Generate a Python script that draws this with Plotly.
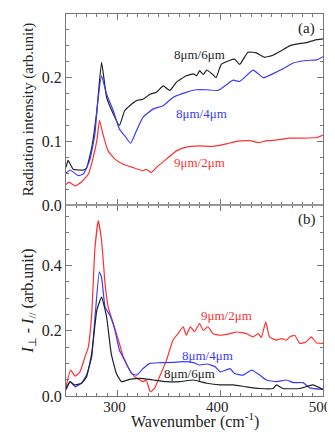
import plotly.graph_objects as go
from plotly.subplots import make_subplots

# ---- Panel (a): radiation intensity ----
a_black_x = [250, 252, 257, 262, 267, 270, 275, 280, 284.6, 289.5, 296, 302, 307, 312, 318.6, 325, 331.6, 338, 344.6, 351, 357.5, 367, 374, 377, 380, 383.5, 387, 392, 396, 401, 409, 414, 419, 427, 435, 443, 451, 459, 467.6, 475.7, 483.8, 491.9, 500]
a_black_y = [0.059, 0.07, 0.056, 0.055, 0.055, 0.058, 0.09, 0.148, 0.224, 0.169, 0.143, 0.125, 0.148, 0.156, 0.164, 0.166, 0.174, 0.177, 0.187, 0.18, 0.193, 0.203, 0.206, 0.203, 0.211, 0.205, 0.212, 0.206, 0.2, 0.221, 0.227, 0.229, 0.221, 0.24, 0.239, 0.232, 0.235, 0.242, 0.25, 0.253, 0.255, 0.259, 0.261]

a_blue_x = [250, 254, 262, 267, 273, 278, 281, 284.6, 289.5, 296, 302, 307, 312.8, 318.6, 325, 335, 344.6, 354, 367, 377, 387, 398, 412.6, 419, 432, 442, 451, 461, 471, 484, 494, 500]
a_blue_y = [0.05, 0.055, 0.046, 0.049, 0.07, 0.11, 0.164, 0.203, 0.174, 0.148, 0.119, 0.109, 0.097, 0.117, 0.138, 0.151, 0.156, 0.169, 0.177, 0.181, 0.181, 0.18, 0.196, 0.194, 0.212, 0.2, 0.206, 0.214, 0.223, 0.227, 0.228, 0.233]

a_red_x = [250, 253, 259, 265, 272, 276.5, 280, 282.6, 286, 291, 297.6, 305.7, 315, 325, 328, 333, 338, 347.6, 357.5, 367, 380, 393, 406, 415.7, 428.8, 438, 445, 454, 467.6, 480.6, 494, 500]
a_red_y = [0.032, 0.036, 0.03, 0.036, 0.049, 0.075, 0.101, 0.133, 0.111, 0.085, 0.072, 0.064, 0.059, 0.054, 0.056, 0.051, 0.059, 0.072, 0.085, 0.091, 0.093, 0.092, 0.096, 0.1, 0.101, 0.098, 0.101, 0.102, 0.105, 0.105, 0.106, 0.11]

# ---- Panel (b): I_perp - I_par ----
b_red_x = [250, 254.5, 259, 263.6, 268.5, 271.7, 275, 278, 281.4, 284.6, 288, 291, 296, 301, 305.7, 312, 317, 322, 325, 328, 332, 336, 341, 347.8, 354, 359, 364, 367, 371, 375, 380, 383.5, 388, 393, 400, 409.5, 415.8, 425.5, 432, 437, 440, 444.3, 448, 454.7, 459.5, 464.5, 467.6, 472.5, 477.4, 483.8, 488.7, 493.5, 500]
b_red_y = [0.028, 0.079, 0.061, 0.074, 0.12, 0.15, 0.25, 0.446, 0.537, 0.476, 0.344, 0.273, 0.222, 0.171, 0.12, 0.079, 0.059, 0.049, 0.044, 0.049, 0.013, 0.023, 0.059, 0.11, 0.171, 0.191, 0.212, 0.186, 0.212, 0.197, 0.222, 0.201, 0.212, 0.191, 0.186, 0.191, 0.196, 0.191, 0.181, 0.191, 0.179, 0.227, 0.181, 0.171, 0.176, 0.171, 0.181, 0.186, 0.161, 0.166, 0.181, 0.163, 0.161]

b_blue_x = [250, 254, 259, 265, 270, 275, 278, 282.4, 284.6, 288, 292.7, 297.6, 302, 307, 313.8, 318.6, 325, 331.6, 341, 354, 364, 374, 380, 387, 395, 400, 409.5, 414, 422.4, 430.5, 438.5, 445, 454.7, 464.5, 471, 480.6, 487, 500]
b_blue_y = [0.018, 0.044, 0.028, 0.039, 0.064, 0.12, 0.232, 0.38, 0.364, 0.273, 0.247, 0.202, 0.14, 0.11, 0.069, 0.064, 0.084, 0.1, 0.102, 0.103, 0.105, 0.102, 0.095, 0.098, 0.09, 0.074, 0.084, 0.069, 0.064, 0.079, 0.064, 0.049, 0.044, 0.049, 0.041, 0.041, 0.025, 0.02]

b_black_x = [250, 254, 258, 265, 270, 275, 280, 284.6, 289.5, 294, 299, 303.9, 312, 322, 335, 347.8, 360.7, 374, 387, 400, 412.6, 425.5, 438.5, 451.5, 454.7, 461, 477.4, 490, 500]
b_black_y = [0.023, 0.044, 0.034, 0.039, 0.059, 0.13, 0.263, 0.303, 0.242, 0.13, 0.069, 0.044, 0.051, 0.054, 0.049, 0.044, 0.044, 0.049, 0.039, 0.034, 0.034, 0.028, 0.023, 0.023, 0.034, 0.023, 0.023, 0.034, 0.02]

BLACK = "#222222"
BLUE = "#3a3aff"
RED = "#ff3030"
FONT = "Liberation Serif"

fig = make_subplots(rows=2, cols=1, shared_xaxes=False, vertical_spacing=0.0)

def add(x, y, color, row):
    fig.add_trace(go.Scatter(x=x, y=y, mode="lines", line=dict(color=color, width=1.2, shape="spline", smoothing=0.4),
                             showlegend=False, hoverinfo="skip"), row=row, col=1)

add(a_black_x, a_black_y, BLACK, 1)
add(a_blue_x, a_blue_y, BLUE, 1)
add(a_red_x, a_red_y, RED, 1)
add(b_red_x, b_red_y, RED, 2)
add(b_blue_x, b_blue_y, BLUE, 2)
add(b_black_x, b_black_y, BLACK, 2)

axis_common = dict(showline=True, linecolor="#777777", linewidth=1, mirror="ticks", ticks="inside",
                   ticklen=6, tickcolor="#777777", showgrid=False, zeroline=False, automargin=False,
                   tickfont=dict(family=FONT, size=16, color="#222"))

fig.update_xaxes(range=[250, 500], dtick=100, tick0=300, ticklabelshift=-3,
                 minor=dict(dtick=10, ticks="inside", ticklen=3, tickcolor="#777777"), **axis_common)
fig.update_xaxes(showticklabels=False, row=1, col=1)
fig.update_xaxes(tickfont=dict(family=FONT, size=15, color="#222"), ticklabelstandoff=-3, row=2, col=1)

fig.update_yaxes(**axis_common)
fig.update_yaxes(range=[0, 0.3], dtick=0.1, tickformat=".1f",
                 minor=dict(dtick=0.025, ticks="inside", ticklen=3, tickcolor="#777777"),
                 title=dict(text="Radiation intensity (arb.unit)", font=dict(family=FONT, size=15, color="#222"), standoff=4),
                 row=1, col=1)
fig.update_yaxes(range=[0, 0.585], dtick=0.2, tickformat=".1f",
                 minor=dict(dtick=0.05, ticks="inside", ticklen=3, tickcolor="#777777"),
                 title=dict(text="<i>I</i><sub>⊥</sub> - <i>I</i><sub>//</sub> (arb.unit)", font=dict(family=FONT, size=16, color="#222"), standoff=4),
                 row=2, col=1)

fig.update_layout(yaxis=dict(domain=[0.5, 1.0]), yaxis2=dict(domain=[0.0, 0.5]))

# x-axis title placed as paper annotation below the tick labels
fig.add_annotation(x=0.5, y=-0.0935, xref="paper", yref="paper", text="Wavenumber (cm<sup>-1</sup>)",
                   showarrow=False, yanchor="bottom", borderpad=0, font=dict(family=FONT, size=16, color="#222"))

ann = [
    dict(x=380, y=0.237, text="8μm/6μm", color=BLACK, xref="x", yref="y"),
    dict(x=382, y=0.144, text="8μm/4μm", color=BLUE, xref="x", yref="y"),
    dict(x=380, y=0.066, text="9μm/2μm", color=RED, xref="x", yref="y"),
    dict(x=484, y=0.278, text="(a)", color=BLACK, xref="x", yref="y", size=15),
    dict(x=406, y=0.247, text="9μm/2μm", color=RED, xref="x2", yref="y2"),
    dict(x=388, y=0.125, text="8μm/4μm", color=BLUE, xref="x2", yref="y2"),
    dict(x=370, y=0.069, text="8μm/6μm", color=BLACK, xref="x2", yref="y2"),
    dict(x=484, y=0.54, text="(b)", color=BLACK, xref="x2", yref="y2", size=15),
]
for a in ann:
    fig.add_annotation(x=a["x"], y=a["y"], xref=a["xref"], yref=a["yref"], text=a["text"], showarrow=False,
                       font=dict(family=FONT, size=a.get("size", 13), color=a["color"]))

# separating grey line between panels
fig.add_shape(type="line", xref="paper", yref="paper", x0=0, x1=1, y0=0.5, y1=0.5,
              line=dict(color="#999999", width=2))

# page body adds an 8px offset, so the figure is sized to the visible area
fig.update_layout(width=327, height=424, margin=dict(l=58, r=12, t=6, b=36, autoexpand=False),
                  paper_bgcolor="white", plot_bgcolor="white",
                  font=dict(family=FONT, color="#222"))

fig.write_html("out.html")
